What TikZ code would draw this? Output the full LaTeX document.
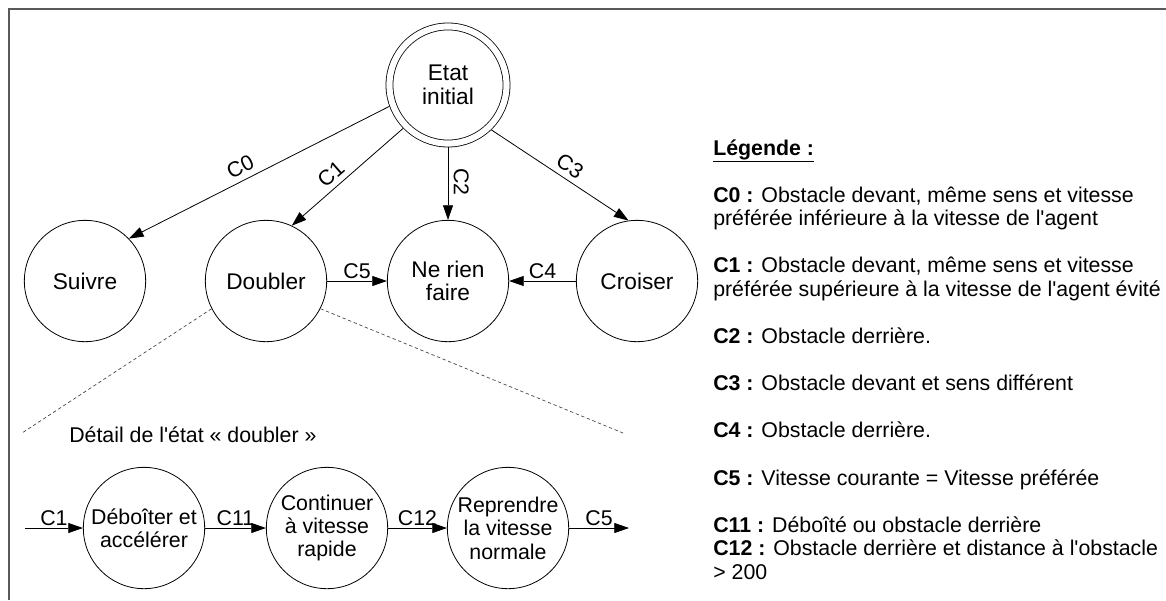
\documentclass[tikz,border=0pt]{standalone}
\usepackage{fontspec}
\setmainfont{Liberation Sans}
\usetikzlibrary{arrows.meta,positioning}
\newcommand{\diafont}{\fontsize{16}{17.6}\selectfont}
\newcommand{\etatfont}{\fontsize{17}{17.6}\selectfont}
\newcommand{\apos}{\textquotesingle}

\begin{document}
\begin{tikzpicture}[x=0.75pt,y=-0.75pt,>={Triangle[length=11pt,width=7.5pt]},
    etat/.style={draw,circle,minimum size=91pt,inner sep=0pt,align=center,
                 font=\diafont,line width=0.6pt},
    grandetat/.style={etat,font=\etatfont},
    lien/.style={->,line width=0.6pt},
    lbl/.style={font=\diafont,inner sep=1.5pt},
    pente/.style={lbl,sloped,above,inner sep=4pt},
    detail/.style={dash pattern=on 2.5pt off 2pt,line width=0.5pt,black!75},
    legline/.style={anchor=base west,inner sep=0pt,font=\diafont}]
  \useasboundingbox (0,0) rectangle (1166,600);
  % cadre
  \draw[black!65,line width=1.5pt] (1166,9) -- (9,9) -- (9,600);

  % etats principaux
  \node[grandetat,double,double distance=4.6pt,minimum size=87.8pt,outer sep=2.9pt]
        (ini) at (448,85) {Etat\\initial};
  \node[grandetat] (suiv) at (85,281) {Suivre};
  \node[grandetat] (doub) at (266,281) {Doubler};
  \node[grandetat] (nrf) at (448,281) {Ne rien\\faire};
  \node[grandetat] (crois) at (637,281) {Croiser};

  \draw[lien] (ini.200) -- node[pente,pos=0.55] {C0} (suiv.44);
  \draw[lien] (ini.224) -- node[pente,pos=0.57] {C1} (doub.65);
  \draw[lien] (ini.south) -- node[pente,pos=0.48] {C2} (nrf.north);
  \draw[lien] (ini.314) -- node[pente,pos=0.52] {C3} (crois.98);
  \draw[lien] (doub.east) -- node[lbl,above] {C5} (nrf.west);
  \draw[lien] (crois.west) -- node[lbl,above] {C4} (nrf.east);

  % detail de doubler
  \coordinate (dg) at (22,433);
  \coordinate (dd) at (623,433);
  \draw[detail] (doub.207) -- (dg);
  \draw[detail] (doub.333) -- (dd);
  \node[anchor=west,inner sep=0pt,font=\diafont] (titre) at (69,435)
        {Détail de l\apos état « doubler »};

  \node[etat] (d1) at (144,528) {Déboîter et\\accélérer};
  \node[etat] (d2) at (327,528) {Continuer\\à vitesse\\rapide};
  \node[etat] (d3) at (508,528) {Reprendre\\la vitesse\\normale};
  \coordinate (entree) at (25,528);
  \coordinate (sortie) at (629,528);
  \draw[lien] (entree) -- node[lbl,above] {C1} (d1);
  \draw[lien] (d1) -- node[lbl,above] {C11} (d2);
  \draw[lien] (d2) -- node[lbl,above] {C12} (d3);
  \draw[lien] (d3) -- node[lbl,above] {C5} (sortie);

  % legende
  \node[legline] (leg) at (713,155) {\underline{\textbf{Légende :}}};
  \node[legline] (l0a) at (713,202) {\textbf{C0 :} Obstacle devant, même sens et vitesse};
  \node[legline] (l0b) at (713,225.5) {préférée inférieure à la vitesse de l\apos agent};
  \node[legline] (l1a) at (713,272.5) {\textbf{C1 :} Obstacle devant, même sens et vitesse};
  \node[legline] (l1b) at (713,296) {préférée supérieure à la vitesse de l\apos agent évité};
  \node[legline] (l2) at (713,343) {\textbf{C2 :} Obstacle derrière.};
  \node[legline] (l3) at (713,390.5) {\textbf{C3 :} Obstacle devant et sens différent};
  \node[legline] (l4) at (713,437.5) {\textbf{C4 :} Obstacle derrière.};
  \node[legline] (l5) at (713,485) {\textbf{C5 :} Vitesse courante = Vitesse préférée};
  \node[legline] (l11) at (713,532) {\textbf{C11 :} Déboîté ou obstacle derrière};
  \node[legline] (l12a) at (713,555.5) {\textbf{C12 :} Obstacle derrière et distance à l\apos obstacle};
  \node[legline] (l12b) at (713,579) {> 200};
\end{tikzpicture}
\end{document}
